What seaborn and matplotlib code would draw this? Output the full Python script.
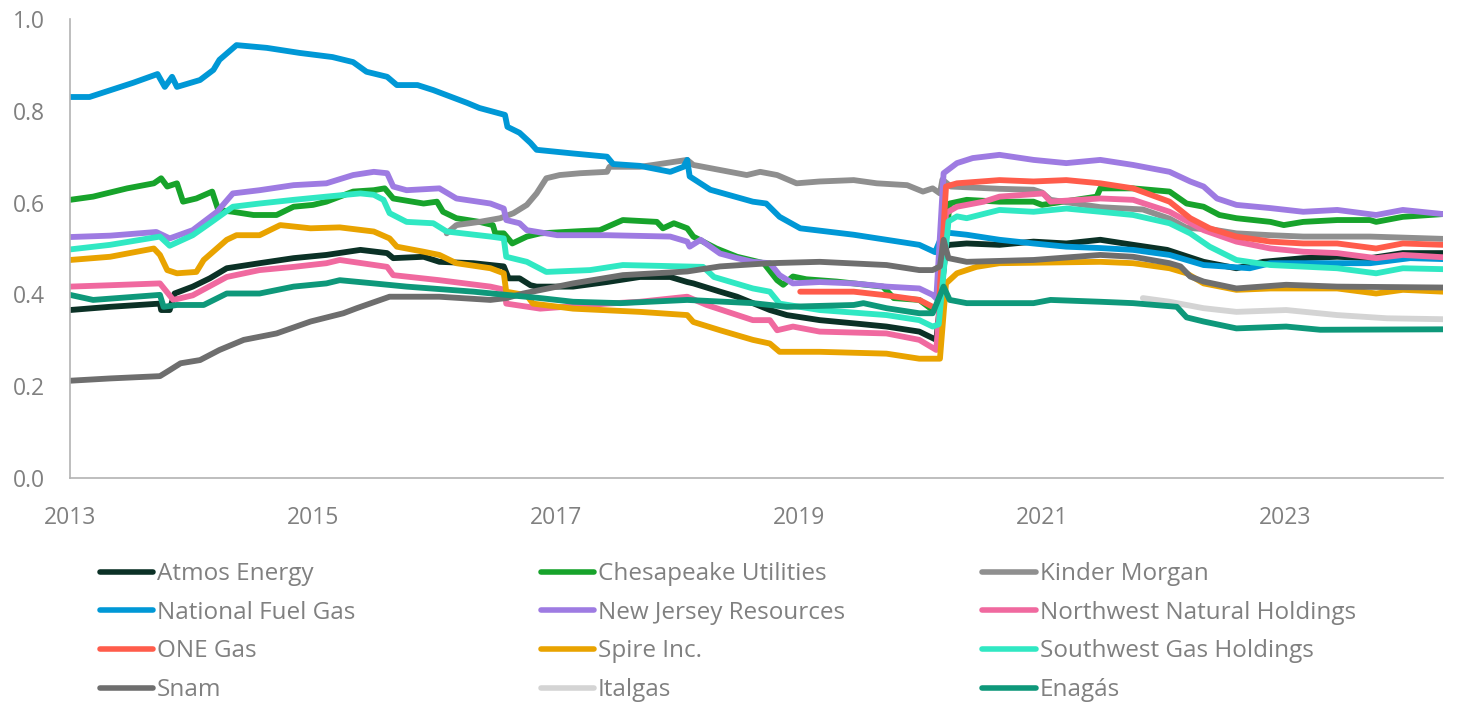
import numpy as np
import pandas as pd
import matplotlib.pyplot as plt
from matplotlib.lines import Line2D
import seaborn as sns

# values: (decimal year, ratio)
atmos = [(2013.0, 0.366), (2013.33, 0.373), (2013.74, 0.380), (2013.75, 0.366), (2013.82, 0.366),
         (2013.86, 0.402), (2014.01, 0.417), (2014.15, 0.435), (2014.29, 0.457), (2014.56, 0.468),
         (2014.84, 0.479), (2015.11, 0.486), (2015.39, 0.497), (2015.61, 0.490), (2015.66, 0.479),
         (2015.91, 0.482), (2016.04, 0.471), (2016.32, 0.468), (2016.57, 0.461), (2016.61, 0.435),
         (2016.70, 0.435), (2016.79, 0.420), (2016.84, 0.417), (2017.14, 0.417), (2017.42, 0.427),
         (2017.69, 0.438), (2017.94, 0.438), (2018.08, 0.427), (2018.13, 0.424), (2018.35, 0.406),
         (2018.49, 0.395), (2018.76, 0.366), (2018.90, 0.355), (2019.17, 0.344), (2019.45, 0.337),
         (2019.72, 0.330), (2019.99, 0.319), (2020.13, 0.301), (2020.21, 0.504), (2020.24, 0.508),
         (2020.38, 0.511), (2020.65, 0.508), (2020.93, 0.515), (2021.20, 0.511), (2021.48, 0.519),
         (2021.75, 0.508), (2022.03, 0.497), (2022.33, 0.471), (2022.60, 0.457), (2022.82, 0.471),
         (2023.15, 0.479), (2023.43, 0.482), (2023.70, 0.479), (2023.97, 0.490), (2024.30, 0.490)]

chesapeake = [(2013.0, 0.606), (2013.19, 0.613), (2013.47, 0.631), (2013.69, 0.642), (2013.75, 0.653),
              (2013.80, 0.635), (2013.88, 0.642), (2013.93, 0.602), (2014.04, 0.609), (2014.17, 0.624),
              (2014.22, 0.584), (2014.34, 0.580), (2014.51, 0.573), (2014.70, 0.573), (2014.84, 0.591),
              (2015.0, 0.595), (2015.11, 0.602), (2015.33, 0.624), (2015.50, 0.627), (2015.59, 0.631),
              (2015.66, 0.609), (2015.91, 0.598), (2016.02, 0.602), (2016.07, 0.580), (2016.18, 0.566),
              (2016.37, 0.558), (2016.48, 0.551), (2016.50, 0.533), (2016.57, 0.533), (2016.64, 0.511),
              (2016.76, 0.526), (2016.87, 0.533), (2017.14, 0.537), (2017.36, 0.540), (2017.55, 0.562),
              (2017.83, 0.558), (2017.88, 0.544), (2017.97, 0.555), (2018.08, 0.544), (2018.13, 0.526),
              (2018.32, 0.500), (2018.49, 0.482), (2018.71, 0.468), (2018.82, 0.431), (2018.87, 0.421),
              (2018.95, 0.439), (2019.06, 0.433), (2019.31, 0.428), (2019.69, 0.417), (2019.78, 0.392),
              (2019.99, 0.388), (2020.10, 0.366), (2020.15, 0.370), (2020.24, 0.598), (2020.38, 0.606),
              (2020.65, 0.602), (2020.93, 0.602), (2021.0, 0.595), (2021.45, 0.613), (2021.48, 0.631),
              (2021.75, 0.631), (2022.05, 0.624), (2022.19, 0.598), (2022.33, 0.591), (2022.46, 0.573),
              (2022.60, 0.566), (2022.88, 0.558), (2022.99, 0.551), (2023.15, 0.558), (2023.43, 0.562),
              (2023.70, 0.562), (2023.75, 0.558), (2023.97, 0.569), (2024.30, 0.575)]

kinder = [(2016.10, 0.533), (2016.18, 0.551), (2016.37, 0.558), (2016.54, 0.566), (2016.65, 0.577),
          (2016.76, 0.595), (2016.84, 0.620), (2016.92, 0.653), (2017.03, 0.660), (2017.20, 0.664),
          (2017.42, 0.667), (2017.44, 0.678), (2017.69, 0.678), (2017.80, 0.682), (2018.08, 0.693),
          (2018.13, 0.682), (2018.35, 0.671), (2018.57, 0.660), (2018.68, 0.667), (2018.82, 0.660),
          (2018.98, 0.642), (2019.17, 0.646), (2019.45, 0.649), (2019.64, 0.642), (2019.89, 0.638),
          (2020.02, 0.624), (2020.10, 0.631), (2020.16, 0.620), (2020.18, 0.650), (2020.25, 0.635),
          (2020.65, 0.630), (2020.93, 0.628), (2021.0, 0.622), (2021.07, 0.606), (2021.48, 0.590),
          (2021.83, 0.585), (2022.05, 0.565), (2022.19, 0.545), (2022.41, 0.541), (2022.60, 0.533),
          (2022.88, 0.529), (2023.15, 0.526), (2023.70, 0.526), (2024.30, 0.521)]

national_fuel = [(2013.0, 0.830), (2013.16, 0.830), (2013.52, 0.861), (2013.72, 0.880), (2013.78, 0.852),
                 (2013.84, 0.874), (2013.88, 0.852), (2014.07, 0.867), (2014.18, 0.889), (2014.23, 0.911),
                 (2014.37, 0.943), (2014.62, 0.937), (2014.89, 0.926), (2015.16, 0.917), (2015.33, 0.906),
                 (2015.44, 0.885), (2015.61, 0.874), (2015.69, 0.856), (2015.86, 0.856), (2015.99, 0.845),
                 (2016.27, 0.817), (2016.37, 0.806), (2016.58, 0.791), (2016.60, 0.765), (2016.70, 0.752),
                 (2016.79, 0.730), (2016.84, 0.715), (2017.14, 0.707), (2017.42, 0.700), (2017.47, 0.684),
                 (2017.69, 0.680), (2017.94, 0.667), (2018.05, 0.678), (2018.08, 0.693), (2018.10, 0.657),
                 (2018.27, 0.628), (2018.62, 0.602), (2018.73, 0.598), (2018.84, 0.569), (2019.01, 0.544),
                 (2019.45, 0.530), (2019.72, 0.519), (2019.99, 0.508), (2020.12, 0.492), (2020.18, 0.530),
                 (2020.24, 0.534), (2020.38, 0.530), (2020.65, 0.519), (2020.93, 0.511), (2021.20, 0.504),
                 (2021.48, 0.501), (2021.75, 0.497), (2022.05, 0.486), (2022.33, 0.464), (2022.71, 0.457),
                 (2022.88, 0.468), (2023.70, 0.468), (2024.03, 0.479), (2024.30, 0.477)]

new_jersey = [(2013.0, 0.525), (2013.33, 0.528), (2013.71, 0.536), (2013.82, 0.522), (2014.01, 0.540),
              (2014.21, 0.580), (2014.34, 0.620), (2014.56, 0.627), (2014.84, 0.638), (2015.11, 0.642),
              (2015.33, 0.660), (2015.50, 0.667), (2015.61, 0.664), (2015.66, 0.635), (2015.77, 0.627),
              (2016.04, 0.631), (2016.18, 0.609), (2016.46, 0.598), (2016.57, 0.587), (2016.59, 0.562),
              (2016.70, 0.555), (2016.76, 0.540), (2017.01, 0.529), (2017.42, 0.529), (2017.94, 0.526),
              (2018.08, 0.515), (2018.10, 0.504), (2018.19, 0.519), (2018.35, 0.489), (2018.49, 0.479),
              (2018.62, 0.471), (2018.76, 0.468), (2018.84, 0.442), (2018.95, 0.424), (2019.17, 0.427),
              (2019.45, 0.424), (2019.72, 0.417), (2019.99, 0.413), (2020.10, 0.399), (2020.13, 0.391),
              (2020.19, 0.664), (2020.30, 0.686), (2020.43, 0.697), (2020.65, 0.704), (2020.93, 0.693),
              (2021.20, 0.686), (2021.48, 0.693), (2021.75, 0.682), (2022.05, 0.667), (2022.22, 0.646),
              (2022.33, 0.635), (2022.44, 0.609), (2022.60, 0.595), (2022.88, 0.588), (2023.15, 0.580),
              (2023.43, 0.584), (2023.75, 0.573), (2023.97, 0.584), (2024.30, 0.575)]

northwest = [(2013.0, 0.417), (2013.33, 0.420), (2013.74, 0.424), (2013.85, 0.388), (2014.01, 0.398),
             (2014.29, 0.438), (2014.56, 0.453), (2014.84, 0.460), (2015.11, 0.468), (2015.22, 0.475),
             (2015.61, 0.460), (2015.66, 0.442), (2016.04, 0.431), (2016.46, 0.417), (2016.58, 0.410),
             (2016.59, 0.380), (2016.87, 0.369), (2017.42, 0.380), (2017.69, 0.384), (2018.08, 0.395),
             (2018.24, 0.377), (2018.62, 0.344), (2018.76, 0.344), (2018.82, 0.322), (2018.95, 0.330),
             (2019.17, 0.319), (2019.72, 0.315), (2019.99, 0.301), (2020.13, 0.279), (2020.21, 0.577),
             (2020.30, 0.591), (2020.52, 0.602), (2020.65, 0.613), (2021.01, 0.620), (2021.07, 0.602),
             (2021.48, 0.609), (2021.75, 0.606), (2022.05, 0.580), (2022.33, 0.540), (2022.60, 0.515),
             (2022.88, 0.500), (2023.15, 0.493), (2023.43, 0.490), (2023.75, 0.479), (2023.97, 0.486),
             (2024.30, 0.481)]

one_gas = [(2019.01, 0.406), (2019.45, 0.406), (2019.72, 0.398), (2019.99, 0.388), (2020.10, 0.373),
           (2020.15, 0.369), (2020.21, 0.635), (2020.30, 0.642), (2020.65, 0.649), (2020.93, 0.646),
           (2021.20, 0.649), (2021.48, 0.642), (2021.75, 0.631), (2022.05, 0.602), (2022.22, 0.566),
           (2022.38, 0.544), (2022.60, 0.526), (2022.88, 0.515), (2023.15, 0.511), (2023.43, 0.511),
           (2023.75, 0.500), (2023.97, 0.511), (2024.30, 0.508)]

spire = [(2013.0, 0.475), (2013.33, 0.482), (2013.69, 0.500), (2013.74, 0.486), (2013.80, 0.453),
         (2013.88, 0.446), (2014.04, 0.449), (2014.10, 0.475), (2014.29, 0.519), (2014.37, 0.529),
         (2014.56, 0.529), (2014.73, 0.551), (2014.98, 0.544), (2015.22, 0.546), (2015.50, 0.537),
         (2015.63, 0.522), (2015.69, 0.504), (2015.91, 0.493), (2016.04, 0.486), (2016.18, 0.468),
         (2016.46, 0.457), (2016.57, 0.446), (2016.59, 0.406), (2016.76, 0.398), (2016.81, 0.380),
         (2017.14, 0.369), (2017.69, 0.362), (2018.08, 0.355), (2018.13, 0.340), (2018.35, 0.322),
         (2018.62, 0.301), (2018.76, 0.293), (2018.84, 0.275), (2019.17, 0.275), (2019.72, 0.271),
         (2019.99, 0.260), (2020.16, 0.260), (2020.21, 0.424), (2020.30, 0.446), (2020.46, 0.460),
         (2020.65, 0.468), (2021.48, 0.471), (2021.75, 0.468), (2022.05, 0.457), (2022.19, 0.446),
         (2022.33, 0.424), (2022.60, 0.410), (2022.88, 0.413), (2023.43, 0.413), (2023.75, 0.402),
         (2023.97, 0.410), (2024.30, 0.406)]

southwest = [(2013.0, 0.498), (2013.33, 0.508), (2013.74, 0.526), (2013.82, 0.506), (2014.01, 0.529),
             (2014.15, 0.555), (2014.34, 0.591), (2014.56, 0.598), (2014.84, 0.606), (2015.11, 0.613),
             (2015.39, 0.620), (2015.50, 0.617), (2015.58, 0.606), (2015.63, 0.577), (2015.77, 0.558),
             (2015.99, 0.555), (2016.10, 0.537), (2016.46, 0.526), (2016.57, 0.522), (2016.59, 0.482),
             (2016.76, 0.471), (2016.92, 0.449), (2017.28, 0.453), (2017.55, 0.464), (2018.21, 0.460),
             (2018.30, 0.438), (2018.62, 0.413), (2018.76, 0.406), (2018.84, 0.380), (2019.17, 0.366),
             (2019.72, 0.355), (2019.99, 0.344), (2020.10, 0.330), (2020.15, 0.335), (2020.23, 0.559),
             (2020.30, 0.570), (2020.38, 0.566), (2020.65, 0.584), (2020.93, 0.580), (2021.20, 0.587),
             (2021.48, 0.580), (2021.75, 0.573), (2022.05, 0.555), (2022.22, 0.533), (2022.38, 0.504),
             (2022.60, 0.475), (2022.88, 0.464), (2023.43, 0.457), (2023.75, 0.446), (2023.97, 0.457),
             (2024.30, 0.455)]

snam = [(2013.0, 0.212), (2013.33, 0.217), (2013.74, 0.222), (2013.82, 0.235), (2013.91, 0.250),
        (2014.07, 0.257), (2014.23, 0.279), (2014.43, 0.301), (2014.70, 0.315), (2014.98, 0.341),
        (2015.25, 0.359), (2015.36, 0.370), (2015.63, 0.395), (2016.04, 0.395), (2016.46, 0.388),
        (2016.59, 0.392), (2016.73, 0.402), (2017.14, 0.424), (2017.55, 0.442), (2018.08, 0.450),
        (2018.35, 0.461), (2018.76, 0.468), (2019.17, 0.471), (2019.72, 0.464), (2019.99, 0.453),
        (2020.10, 0.453), (2020.16, 0.461), (2020.19, 0.519), (2020.23, 0.479), (2020.38, 0.471),
        (2020.93, 0.475), (2021.48, 0.486), (2021.75, 0.482), (2022.05, 0.468), (2022.14, 0.461),
        (2022.22, 0.439), (2022.33, 0.428), (2022.60, 0.413), (2023.01, 0.421), (2023.43, 0.417),
        (2024.30, 0.415)]

italgas = [(2021.83, 0.392), (2022.05, 0.384), (2022.33, 0.370), (2022.60, 0.362), (2023.01, 0.366),
           (2023.43, 0.355), (2023.84, 0.348), (2024.30, 0.346)]

enagas = [(2013.0, 0.399), (2013.19, 0.388), (2013.74, 0.399), (2013.77, 0.373), (2013.88, 0.377),
          (2014.10, 0.377), (2014.29, 0.402), (2014.56, 0.402), (2014.84, 0.417), (2015.11, 0.424),
          (2015.22, 0.431), (2015.50, 0.424), (2015.77, 0.417), (2016.32, 0.406), (2016.59, 0.399),
          (2016.87, 0.392), (2017.14, 0.384), (2017.53, 0.381), (2018.08, 0.388), (2018.62, 0.381),
          (2018.90, 0.373), (2019.45, 0.377), (2019.53, 0.381), (2019.72, 0.370), (2019.99, 0.359),
          (2020.10, 0.359), (2020.19, 0.417), (2020.24, 0.388), (2020.38, 0.381), (2020.93, 0.381),
          (2021.07, 0.388), (2021.48, 0.384), (2021.75, 0.381), (2022.11, 0.373), (2022.19, 0.350),
          (2022.33, 0.341), (2022.60, 0.326), (2023.01, 0.330), (2023.29, 0.323), (2024.30, 0.324)]

companies = ["Atmos Energy", "Chesapeake Utilities", "Kinder Morgan",
             "National Fuel Gas", "New Jersey Resources", "Northwest Natural Holdings",
             "ONE Gas", "Spire Inc.", "Southwest Gas Holdings",
             "Snam", "Italgas", "Enagás"]
series = [atmos, chesapeake, kinder, national_fuel, new_jersey, northwest,
          one_gas, spire, southwest, snam, italgas, enagas]
colors = ["#0b3126", "#17a32b", "#8f8f8f",
          "#0098d6", "#9e7be2", "#f0699f",
          "#ff5c4b", "#e9a300", "#30e8c3",
          "#6e6e6e", "#d4d4d4", "#0e987a"]

frames = []
for name, pts in zip(companies, series):
    d = pd.DataFrame(pts, columns=["year", "value"])
    d["company"] = name
    frames.append(d)
df = pd.concat(frames, ignore_index=True)

sns.set_theme(style="white")
plt.rcParams["font.family"] = ["Open Sans", "DejaVu Sans"]
grey_txt = "#808080"
grey_ax = "#b3b3b3"

fig = plt.figure(figsize=(14.59, 7.02), dpi=100)
ax = fig.add_axes([0.048, 0.319, 0.941, 0.654])

sns.lineplot(data=df, x="year", y="value", hue="company", hue_order=companies,
             palette=colors, estimator=None, sort=False, linewidth=4.2,
             legend=False, ax=ax)
for ln in ax.get_lines():
    ln.set_solid_joinstyle("round")
    ln.set_solid_capstyle("round")

ax.set_xlim(2013, 2024.3)
ax.set_ylim(0, 1.0)
ax.set_xticks([2013, 2015, 2017, 2019, 2021, 2023])
ax.set_xticklabels(["2013", "2015", "2017", "2019", "2021", "2023"])
ax.set_yticks(np.arange(0, 1.01, 0.2))
ax.set_yticklabels([f"{v:.1f}" for v in np.arange(0, 1.01, 0.2)])
ax.set_xlabel("")
ax.set_ylabel("")
sns.despine(ax=ax)
for s in ["left", "bottom"]:
    ax.spines[s].set_color(grey_ax)
    ax.spines[s].set_linewidth(1.2)
ax.tick_params(axis="y", length=6, width=1.2, color=grey_ax, labelcolor=grey_txt,
               labelsize=16.5, pad=12)
ax.tick_params(axis="x", length=7, width=1.2, color=grey_ax, labelcolor=grey_txt,
               labelsize=16.5, pad=13)

# legend: three columns placed like the reference
col_x = [0.0685, 0.3705, 0.6734]
for c in range(3):
    idx = [c, c + 3, c + 6, c + 9]
    handles = [Line2D([0], [0], color=colors[i], lw=4, solid_capstyle="round") for i in idx]
    labels = [companies[i] for i in idx]
    fig.legend(handles, labels, loc="upper left", bbox_to_anchor=(col_x[c], 0.199),
               frameon=False, fontsize=17.5, labelcolor=grey_txt, handlelength=2.2,
               handletextpad=0.15, labelspacing=0.6, borderpad=0, borderaxespad=0)

fig.savefig("out.png", dpi=100)
